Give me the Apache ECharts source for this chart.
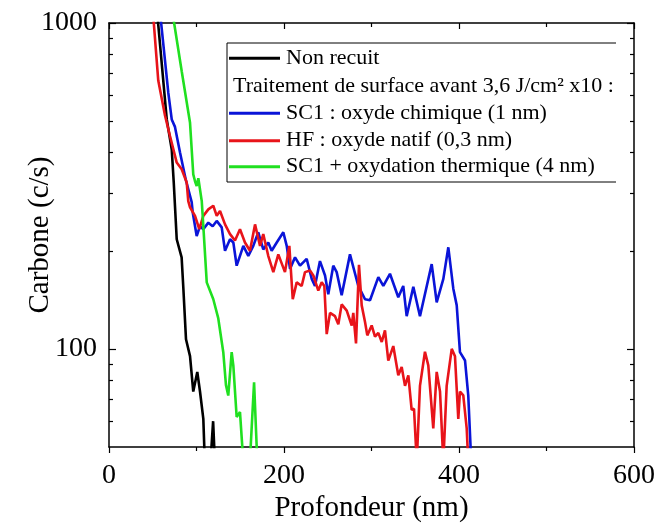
<!DOCTYPE html>
<html>
<head>
<meta charset="utf-8">
<script src="https://cdn.jsdelivr.net/npm/echarts@6/dist/echarts.min.js"></script>
<style>
html,body{margin:0;padding:0;background:#fff;}
#chart{width:657px;height:523px;}
</style>
</head>
<body>
<div id="chart"></div>
<script>
// ---- Data ----
const xTitle = 'Profondeur (nm)';
const yTitle = 'Carbone (c/s)';
const legendTitles = ['Non recuit', 'Traitement de surface avant 3,6 J/cm² x10 :', 'SC1 : oxyde chimique (1 nm)', 'HF : oxyde natif (0,3 nm)', 'SC1 + oxydation thermique (4 nm)'];

const yMajorTicks = [100, 1000];
const yMinorTicks = [60, 70, 80, 90, 200, 300, 400, 500, 600, 700, 800, 900];

const nonRecuitX = [55, 66, 71.7, 74, 77.4, 83, 85, 88, 92.6, 96.3, 100.9, 104, 107.8, 109.5, 116, 119, 121];
const nonRecuitY = [1080, 506, 409, 324, 217, 191, 153, 107, 95, 74, 85, 74, 61, 45, 45, 60, 45];

const sc1X = [58, 67.8, 71.7, 75.4, 81.1, 87.7, 94.5, 95.7, 100.2, 104, 107.8, 113.5, 118.5, 123.1, 128.8, 132.6, 138.3, 142.1, 145.9, 149.7, 153.5, 159.2, 164.9, 170.6, 176.3, 182, 185.9, 191.7, 199.2, 203.1, 206.9, 212.6, 218.3, 225.9, 231.7, 235.4, 241.1, 246.9, 250.6, 256.3, 260.2, 265.9, 275.4, 284.9, 292.6, 298.3, 307.8, 313.5, 321.1, 330.6, 336.3, 340.2, 347.8, 355.4, 368.8, 374.5, 382.1, 387.8, 393.5, 397.4, 401.1, 406.9, 410.6, 414];
const sc1Y = [1100, 610, 506, 480, 401, 331, 282, 262, 222, 238, 233, 244, 238, 247, 236, 200, 217, 212, 180, 193, 207, 193, 207, 228, 202, 212, 200, 212, 228, 207, 176, 191, 180, 189, 164, 156, 186, 168, 147, 180, 172, 146, 195, 156, 142, 141, 166, 156, 170, 144, 156, 126, 155, 126, 182, 139, 164, 205, 153, 136, 97.7, 92.1, 71.9, 45];

const hfX = [50, 56.3, 64, 69.7, 77.4, 83.1, 88.8, 90.6, 92.6, 98.3, 103.2, 107.8, 113.5, 119.2, 123.1, 126.9, 132.6, 138.3, 144, 149.7, 155.4, 161.1, 166.9, 172.6, 176.3, 182, 187.8, 193.5, 201.1, 206.1, 210, 214.5, 220.2, 224, 229.7, 233.5, 239.2, 243.1, 246.1, 248.8, 252.6, 258.3, 262.1, 265.9, 271.7, 277.4, 279.2, 282.3, 285.7, 288.8, 292.6, 295.2, 300.2, 304, 307.8, 311.7, 315.4, 319.2, 324.9, 330.6, 334.5, 338.3, 342.1, 345.9, 348.6, 351.7, 355.4, 361.1, 364.9, 370.6, 374.5, 378.3, 382.1, 385.9, 391.7, 395.4, 399.2, 401.1, 404.9, 408.8, 410.6];
const hfY = [1100, 666, 520, 450, 373, 356, 324, 284, 272, 256, 233, 256, 268, 275, 256, 265, 241, 225, 215, 233, 212, 200, 241, 207, 225, 193, 172, 195, 172, 207, 142, 160, 156, 172, 174, 168, 151, 160, 156, 111, 129, 126, 119, 137, 131, 118, 129, 104, 181, 136, 121, 110, 118, 109, 112, 105, 114, 92, 102, 83, 88, 77, 83, 65, 65.5, 45, 77, 98, 89, 57, 85, 74, 45, 77, 100, 95, 61, 74, 72, 57, 45];

const thermX = [72, 83.1, 92.6, 96.3, 98.3, 100.2, 102.1, 106, 107.8, 111.7, 119.2, 124.9, 130.6, 133.7, 136.3, 140.2, 142.1, 145.9, 149.7, 153.5, 161, 165.8, 169.5];
const thermY = [1100, 711, 494, 343, 327, 316, 334, 284, 238, 160, 142, 124, 97.7, 77.3, 71.9, 97.7, 88.9, 61.8, 64, 45, 45, 79, 45];

// ---- Build ----
const FONT = "'Liberation Serif', 'Times New Roman', serif";
function pairs(xs, ys) { return xs.map((x, i) => [x, ys[i]]); }
const colors = ['#000000', '#0a14d8', '#e8141a', '#20e020'];

const chart = echarts.init(document.getElementById('chart'), null, {renderer: 'canvas'});

function yAx(pos, major, showLabel, showLine) {
  return {
    type: 'log', logBase: 10, min: 50, max: 1000, position: pos,
    axisLine: {show: showLine, lineStyle: {color: '#000', width: 1.5}},
    splitLine: {show: false},
    axisTick: {show: true, inside: true, length: major ? 7 : 4, lineStyle: {color: '#000', width: 1.2},
      customValues: major ? yMajorTicks : yMinorTicks},
    axisLabel: {show: showLabel, customValues: yMajorTicks, fontFamily: FONT, fontSize: 28, color: '#000', margin: 12,
      formatter: v => String(Math.round(v))},
    name: showLabel ? yTitle : '', nameLocation: 'middle', nameGap: 54, nameMoveOverlap: false,
    nameTextStyle: {fontFamily: FONT, fontSize: 29, color: '#000'}
  };
}

const option = {
  animation: false,
  backgroundColor: '#fff',
  grid: {left: 109, right: 23, top: 23, bottom: 76, containLabel: false, outerBoundsMode: 'none'},
  xAxis: [
    {
      type: 'value', min: 0, max: 600, interval: 200, position: 'bottom',
      axisLine: {show: true, onZero: false, lineStyle: {color: '#000', width: 1.5}},
      axisTick: {show: true, inside: false, length: 6, lineStyle: {color: '#000', width: 1.2}},
      minorTick: {show: true, splitNumber: 2, length: 4, lineStyle: {color: '#000', width: 1.2}},
      splitLine: {show: false},
      axisLabel: {fontFamily: FONT, fontSize: 28, color: '#000', margin: 15},
      name: xTitle, nameLocation: 'middle', nameGap: 47, nameMoveOverlap: false,
      nameTextStyle: {fontFamily: FONT, fontSize: 29, color: '#000'}
    },
    {
      type: 'value', min: 0, max: 600, interval: 200, position: 'top',
      axisLine: {show: true, onZero: false, lineStyle: {color: '#000', width: 1.5}},
      axisTick: {show: true, inside: true, length: 6, lineStyle: {color: '#000', width: 1.2}},
      minorTick: {show: true, splitNumber: 2, length: 4, lineStyle: {color: '#000', width: 1.2}},
      splitLine: {show: false},
      axisLabel: {show: false}
    }
  ],
  yAxis: [
    yAx('left', true, true, true),
    yAx('left', false, false, false),
    yAx('right', true, false, true),
    yAx('right', false, false, false)
  ],
  series: [
    {name: legendTitles[0], data: pairs(nonRecuitX, nonRecuitY), color: colors[0]},
    {name: legendTitles[2], data: pairs(sc1X, sc1Y), color: colors[1]},
    {name: legendTitles[3], data: pairs(hfX, hfY), color: colors[2]},
    {name: legendTitles[4], data: pairs(thermX, thermY), color: colors[3]}
  ].map(s => Object.assign({
    type: 'line', xAxisIndex: 0, yAxisIndex: 0, showSymbol: false, symbol: 'none', clip: true,
    lineStyle: {width: 2.6, color: s.color}
  }, s)),
  graphic: []
};

// Legend box (drawn as graphic)
const lg = {left: 227, right: 616, top: 43, bottom: 182, sx1: 229, sx2: 280, tx: 286, rows: [58.3, 86.7, 113.3, 140.7, 166.7]};
const g = [];
g.push({type: 'line', shape: {x1: lg.left, y1: lg.top, x2: lg.right, y2: lg.top}, style: {stroke: '#000', lineWidth: 1}});
g.push({type: 'line', shape: {x1: lg.left, y1: lg.bottom, x2: lg.right, y2: lg.bottom}, style: {stroke: '#000', lineWidth: 1}});
g.push({type: 'line', shape: {x1: lg.left, y1: lg.top, x2: lg.left, y2: lg.bottom}, style: {stroke: '#000', lineWidth: 1}});
const rowColors = [colors[0], null, colors[1], colors[2], colors[3]];
legendTitles.forEach((t, i) => {
  const y = lg.rows[i];
  if (rowColors[i]) {
    g.push({type: 'line', shape: {x1: lg.sx1, y1: y, x2: lg.sx2, y2: y}, style: {stroke: rowColors[i], lineWidth: 3}});
    g.push({type: 'text', x: lg.tx, y: y, style: {text: t, font: "22px 'Liberation Serif', serif", fill: '#000', verticalAlign: 'middle'}});
  } else {
    g.push({type: 'text', x: 233, y: y, style: {text: t, font: "22px 'Liberation Serif', serif", fill: '#000', verticalAlign: 'middle'}});
  }
});
option.graphic = g;

chart.setOption(option);
</script>
</body>
</html>
